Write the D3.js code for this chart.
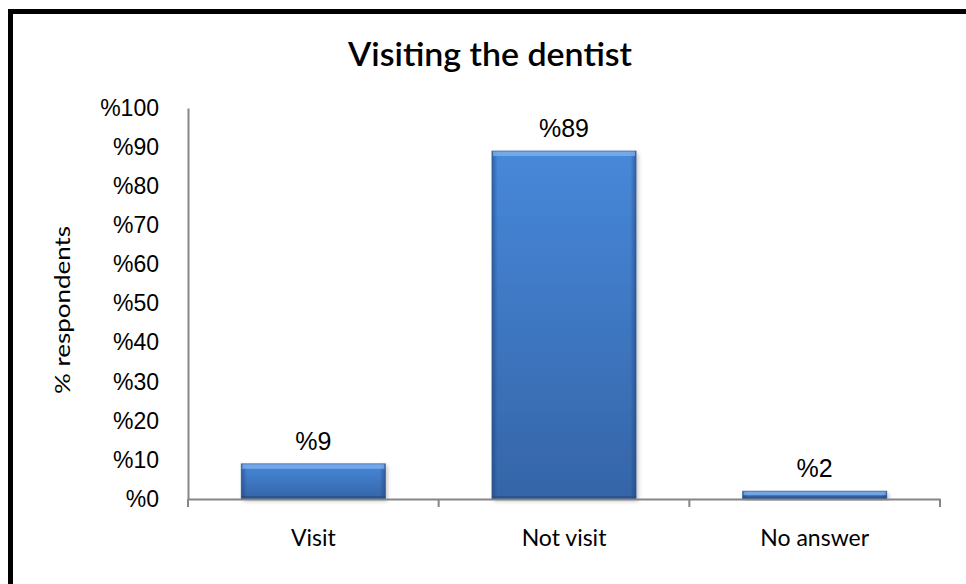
<!DOCTYPE html>
<html>
<head>
<meta charset="utf-8">
<script src="https://cdn.jsdelivr.net/npm/d3@7"></script>
<style>
  html, body { margin: 0; padding: 0; background: #fff; }
  svg { display: block; }
</style>
</head>
<body>
<svg id="chart" width="966" height="584"></svg>
<script>
// Chart data
const categories = ["Visit", "Not visit", "No answer"];
const values = [9, 89, 2];
const yTicks = [0, 10, 20, 30, 40, 50, 60, 70, 80, 90, 100];
const titleText = "Visiting the dentist";
const yAxisTitle = "% respondents";

const humanist = "Lato, 'Open Sans', sans-serif";
const plain = "'Liberation Sans', Arial, sans-serif";

const svg = d3.select("#chart");

// Frame
svg.append("rect")
  .attr("x", 10.5).attr("y", 11.5)
  .attr("width", 980).attr("height", 600)
  .attr("fill", "#fff").attr("stroke", "#000").attr("stroke-width", 5);

const plot = { left: 188, right: 940, top: 108, bottom: 499 };

const x = d3.scaleBand().domain(categories).range([plot.left, plot.right]).padding(0);
const y = d3.scaleLinear().domain([0, 100]).range([plot.bottom, plot.top]);
const barFrac = 0.575;

// Gradients for the bevelled bars
const defs = svg.append("defs");
const vg = defs.append("linearGradient").attr("id", "barV").attr("x1", 0).attr("x2", 0).attr("y1", 0).attr("y2", 1);
vg.append("stop").attr("offset", "0%").attr("stop-color", "#4788da");
vg.append("stop").attr("offset", "100%").attr("stop-color", "#3565a8");
const hg = defs.append("linearGradient").attr("id", "barH").attr("x1", 0).attr("x2", 1).attr("y1", 0).attr("y2", 0);
hg.append("stop").attr("offset", "0%").attr("stop-color", "#1f3f73").attr("stop-opacity", 0.55);
hg.append("stop").attr("offset", "4%").attr("stop-color", "#1f3f73").attr("stop-opacity", 0);
hg.append("stop").attr("offset", "96%").attr("stop-color", "#1f3f73").attr("stop-opacity", 0);
hg.append("stop").attr("offset", "100%").attr("stop-color", "#1f3f73").attr("stop-opacity", 0.55);
const sh = defs.append("filter").attr("id", "shadow").attr("x", "-10%").attr("y", "-10%").attr("width", "130%").attr("height", "130%");
sh.append("feDropShadow").attr("dx", 2).attr("dy", 2).attr("stdDeviation", 2).attr("flood-color", "#000").attr("flood-opacity", 0.25);

// Title
svg.append("text")
  .attr("x", 490).attr("y", 66)
  .attr("text-anchor", "middle")
  .attr("font-family", humanist).attr("font-weight", 600)
  .attr("font-size", 33).attr("fill", "#000")
  .attr("textLength", 284).attr("lengthAdjust", "spacingAndGlyphs")
  .text(titleText);

// Y axis title
svg.append("text")
  .attr("transform", `translate(63,${310}) rotate(-90)`)
  .attr("text-anchor", "middle")
  .attr("dy", "0.35em")
  .attr("font-family", humanist)
  .attr("font-size", 21).attr("fill", "#000")
  .attr("textLength", 168).attr("lengthAdjust", "spacingAndGlyphs")
  .text(yAxisTitle);

// Bars
const bars = svg.append("g");
categories.forEach((c, i) => {
  const bw = x.bandwidth() * barFrac;
  const bx = x(c) + (x.bandwidth() - bw) / 2;
  const by = y(values[i]);
  const bh = y(0) - by;
  const g = bars.append("g");
  g.append("rect").attr("x", bx).attr("y", by).attr("width", bw).attr("height", bh)
    .attr("fill", "url(#barV)").attr("filter", "url(#shadow)");
  g.append("rect").attr("x", bx).attr("y", by).attr("width", bw).attr("height", bh)
    .attr("fill", "url(#barH)");
  // top bevel highlight
  const bevel = Math.min(5, bh / 2);
  g.append("rect").attr("x", bx + 1).attr("y", by).attr("width", bw - 2).attr("height", bevel)
    .attr("fill", "#82b3ee").attr("opacity", 0.75);
  // bottom edge
  g.append("rect").attr("x", bx).attr("y", y(0) - Math.min(3, bh / 3)).attr("width", bw).attr("height", Math.min(3, bh / 3))
    .attr("fill", "#244a80").attr("opacity", 0.6);
  g.append("rect").attr("x", bx).attr("y", by).attr("width", bw).attr("height", bh)
    .attr("fill", "none").attr("stroke", "#2b5591").attr("stroke-width", 1).attr("stroke-opacity", 0.6);
});

// Y axis
const yAxis = svg.append("g")
  .attr("transform", `translate(${plot.left},0)`)
  .call(d3.axisLeft(y).tickValues(yTicks).tickSize(0).tickPadding(29).tickFormat(d => "%" + d));
yAxis.select(".domain").attr("stroke", "#868686").attr("stroke-width", 2);
yAxis.selectAll("text").attr("font-family", plain).attr("font-size", 23).attr("fill", "#000");

// X axis
const xAxis = svg.append("g")
  .attr("transform", `translate(0,${plot.bottom})`)
  .call(d3.axisBottom(x).tickSize(0).tickPadding(31));
xAxis.select(".domain").attr("stroke", "#868686").attr("stroke-width", 2);
xAxis.selectAll("text").attr("font-family", humanist).attr("font-size", 23).attr("fill", "#000");
const bounds = [plot.left, ...categories.map(c => x(c) + x.bandwidth())];
xAxis.selectAll("line.sep").data(bounds).enter().append("line")
  .attr("class", "sep")
  .attr("x1", d => d).attr("x2", d => d)
  .attr("y1", 0).attr("y2", 8)
  .attr("stroke", "#868686").attr("stroke-width", 2);

// Value labels
svg.append("g").selectAll("text").data(categories).enter().append("text")
  .attr("x", c => x(c) + x.bandwidth() / 2)
  .attr("y", (c, i) => y(values[i]) - 14)
  .attr("text-anchor", "middle")
  .attr("font-family", plain).attr("font-size", 25).attr("fill", "#000")
  .text((c, i) => "%" + values[i]);
</script>
</body>
</html>
